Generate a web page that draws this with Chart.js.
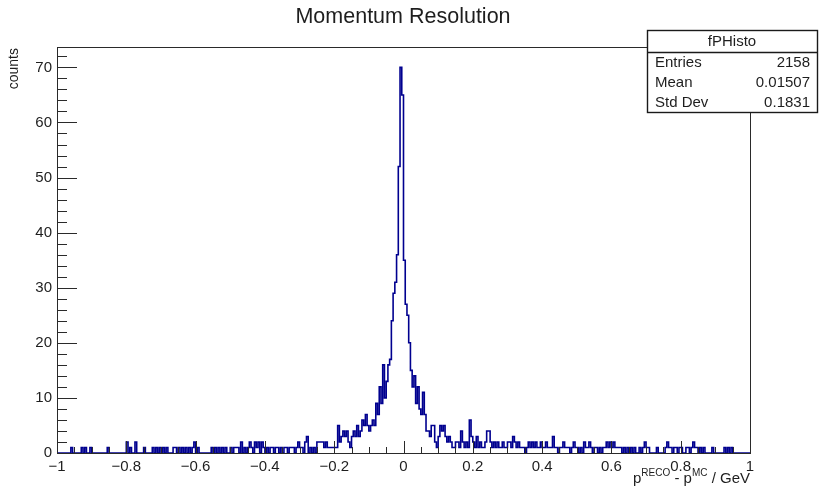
<!DOCTYPE html>
<html>
<head>
<meta charset="utf-8">
<script src="https://cdn.jsdelivr.net/npm/chart.js@4/dist/chart.umd.min.js"></script>
<style>
  html, body { margin: 0; padding: 0; background: #ffffff; }
  #wrap { width: 819px; height: 487px; position: relative; }
</style>
</head>
<body>
<div id="wrap"><canvas id="c" width="819" height="487"></canvas></div>
<script>
// Histogram range and per-bin counts (400 bins of 0.005 GeV on [-1, 1])
const xMin = -1;
const xMax = 1;
const binCounts = [
  0,0,0,0,0,0,0,0,1,0, 0,0,0,0,1,0,1,0,0,1,
  0,0,0,0,0,0,0,0,0,1, 0,0,0,0,0,0,0,0,0,0,
  2,0,1,0,0,2,0,0,0,0, 1,0,0,0,0,1,0,1,0,1,
  0,1,0,1,0,0,0,1,1,0, 1,0,1,0,1,0,1,0,1,2,
  0,1,0,0,0,0,0,0,0,1, 0,1,0,1,0,1,0,1,0,0,
  1,0,1,1,1,0,2,0,1,0, 1,2,1,0,2,1,2,0,2,1,
  0,1,0,1,1,0,1,1,0,1, 0,1,1,0,1,1,1,0,1,2,
  1,1,0,2,3,0,1,0,1,0, 2,2,2,2,1,2,1,1,1,1,
  1,1,5,2,3,4,3,4,2,1, 3,4,3,5,3,4,6,5,7,5,
  4,5,6,5,9,7,12,9,16,10, 13,16,17,24,29,31,36,52,70,65,
  35,27,25,20,15,12,14,9,12,8, 7,11,7,4,4,3,5,5,2,1,
  3,5,4,5,3,2,3,2,1,1, 2,2,1,4,2,1,2,1,6,3,
  2,1,3,1,2,1,1,2,4,4, 2,1,2,1,2,1,1,2,1,1,
  2,2,1,3,2,1,2,1,1,1, 0,1,2,1,2,1,2,1,1,2,
  1,1,2,1,1,1,3,1,1,0, 1,1,2,1,1,1,0,1,2,1,
  1,0,1,0,2,1,1,2,1,0, 1,1,0,1,0,1,1,2,1,2,
  1,2,1,1,1,1,0,1,0,1, 0,1,0,1,0,0,1,0,1,2,
  1,1,0,0,0,0,1,0,0,0, 0,1,2,1,1,0,1,1,0,1,
  1,0,0,1,1,0,1,2,1,1, 0,1,0,1,0,0,0,0,1,0,
  0,0,0,0,0,1,0,1,0,1, 0,0,0,0,0,0,0,0,0,0
];

// Axis tick values
const xMajorTicks = [-1, -0.8, -0.6, -0.4, -0.2, 0, 0.2, 0.4, 0.6, 0.8, 1];
const yMajorTicks = [0, 10, 20, 30, 40, 50, 60, 70];
const yMax = 73.7;

// Text
const chartTitle = 'Momentum Resolution';
const yTitle = 'counts';
const histName = 'fPHisto';
const statsLabels = ['Entries', 'Mean', 'Std Dev'];
const statsValues = ['2158', '0.01507', '0.1831'];

const FONT = '"Liberation Sans", Arial, Helvetica, sans-serif';
const INK = '#1e1e1e';
const LINE = '#00008f';

// Step outline: each point sits on a bin's low edge and holds the bin content
const binWidth = (xMax - xMin) / binCounts.length;
const points = binCounts.map((c, i) => ({ x: xMin + i * binWidth, y: c }));
points.push({ x: xMax, y: binCounts[binCounts.length - 1] });

function fmtX(v) {
  const r = Math.round(v * 10) / 10;
  if (r === 0) return '0';
  return (r < 0 ? '\u2212' : '') + String(Math.abs(r));
}

const decorations = {
  id: 'decorations',
  afterDraw(chart) {
    const ctx = chart.ctx;
    const a = chart.chartArea;
    const xs = chart.scales.x, ys = chart.scales.y;
    ctx.save();

    // frame
    ctx.strokeStyle = '#2a2a2a';
    ctx.lineWidth = 1;
    ctx.strokeRect(Math.round(a.left) + 0.5, Math.round(a.top) + 0.5,
                   Math.round(a.right - a.left), Math.round(a.bottom - a.top));

    // ticks drawn inside the frame
    ctx.beginPath();
    for (let k = 0; k <= 40; k++) {
      const v = xMin + k * 0.05;
      const px = Math.round(xs.getPixelForValue(v)) + 0.5;
      const major = k % 4 === 0;
      const len = major ? 12 : 6;
      ctx.moveTo(px, a.bottom);
      ctx.lineTo(px, a.bottom - len);
    }
    for (let v = 0; v <= 72; v += 2) {
      const py = Math.round(ys.getPixelForValue(v)) + 0.5;
      const major = v % 10 === 0;
      const len = major ? 20 : 10;
      ctx.moveTo(a.left, py);
      ctx.lineTo(a.left + len, py);
    }
    ctx.stroke();

    // title
    ctx.fillStyle = INK;
    ctx.font = '21.5px ' + FONT;
    ctx.textAlign = 'center';
    ctx.textBaseline = 'middle';
    ctx.fillText(chartTitle, 403, 17);

    // y title
    ctx.save();
    ctx.translate(14, a.top + 1);
    ctx.rotate(-Math.PI / 2);
    ctx.font = '14px ' + FONT;
    ctx.textAlign = 'right';
    ctx.textBaseline = 'middle';
    ctx.fillText(yTitle, 0, 0);
    ctx.restore();

    // x title with superscripts, right aligned to the frame edge
    const base = 483;
    const parts = [
      ['p', 15, 0], ['RECO', 10, -7], [' - p', 15, 0], ['MC', 10, -7], [' / GeV', 15, 0]
    ];
    let total = 0;
    parts.forEach(p => { ctx.font = p[1] + 'px ' + FONT; total += ctx.measureText(p[0]).width; });
    let x = a.right - total;
    ctx.textAlign = 'left';
    ctx.textBaseline = 'alphabetic';
    parts.forEach(p => {
      ctx.font = p[1] + 'px ' + FONT;
      ctx.fillText(p[0], x, base + p[2]);
      x += ctx.measureText(p[0]).width;
    });

    // statistics box
    const bx = 647, by = 30, bw = 170, bh = 82, hdr = 22;
    ctx.fillStyle = '#ffffff';
    ctx.fillRect(bx, by, bw, bh);
    ctx.strokeStyle = '#1a1a1a';
    ctx.lineWidth = 1.4;
    ctx.strokeRect(bx + 0.5, by + 0.5, bw, bh);
    ctx.beginPath();
    ctx.moveTo(bx, by + hdr + 0.5);
    ctx.lineTo(bx + bw, by + hdr + 0.5);
    ctx.stroke();
    ctx.fillStyle = INK;
    ctx.font = '15px ' + FONT;
    ctx.textAlign = 'center';
    ctx.textBaseline = 'middle';
    ctx.fillText(histName, bx + bw / 2, by + 12);
    statsLabels.forEach((lab, i) => {
      const ty = by + 33 + i * 20;
      ctx.textAlign = 'left';
      ctx.fillText(lab, bx + 8, ty);
      ctx.textAlign = 'right';
      ctx.fillText(statsValues[i], bx + bw - 7, ty);
    });

    ctx.restore();
  }
};

new Chart(document.getElementById('c'), {
  type: 'line',
  data: {
    datasets: [{
      data: points,
      stepped: 'before',
      borderColor: LINE,
      borderWidth: 1.6,
      pointRadius: 0,
      fill: false,
      tension: 0
    }]
  },
  options: {
    responsive: false,
    animation: false,
    devicePixelRatio: 1,
    layout: { padding: { left: 0, right: 69, top: 47, bottom: 0 } },
    plugins: { legend: { display: false }, tooltip: { enabled: false }, title: { display: false } },
    scales: {
      x: {
        type: 'linear',
        min: xMin,
        max: xMax,
        afterBuildTicks: s => { s.ticks = xMajorTicks.map(v => ({ value: v })); },
        afterFit: s => { s.height = 34; },
        grid: { display: false, drawTicks: false },
        border: { display: false },
        ticks: {
          autoSkip: false, maxRotation: 0, minRotation: 0, padding: 5,
          color: INK, font: { family: FONT, size: 15 },
          callback: v => fmtX(v)
        }
      },
      y: {
        type: 'linear',
        min: 0,
        max: yMax,
        afterBuildTicks: s => { s.ticks = yMajorTicks.map(v => ({ value: v })); },
        afterFit: s => { s.width = 57; },
        grid: { display: false, drawTicks: false },
        border: { display: false },
        ticks: {
          padding: 5, color: INK, font: { family: FONT, size: 15 },
          callback: v => String(v)
        }
      }
    }
  },
  plugins: [decorations]
});
</script>
</body>
</html>
